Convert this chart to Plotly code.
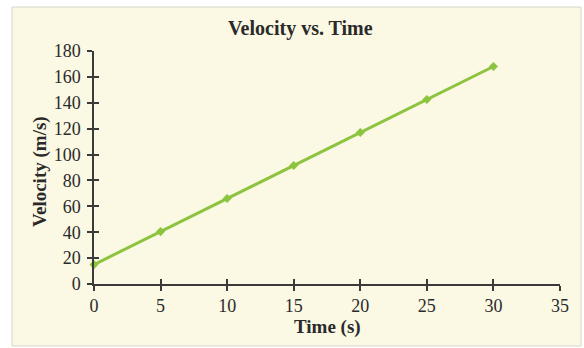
import plotly.graph_objects as go

time_s = [0, 5, 10, 15, 20, 25, 30]
velocity = [15, 40.5, 66, 91.5, 117, 142.5, 168]
x_ticks = [0, 5, 10, 15, 20, 25, 30, 35]
y_ticks = [0, 20, 40, 60, 80, 100, 120, 140, 160, 180]
title_text = "Velocity vs. Time"
x_title = "Time (s)"
y_title = "Velocity (m/s)"

W, H = 584, 348
ML, MR, MT, MB = 94, 24, 51, 64
pw, ph = W - ML - MR, H - MT - MB

def px(x):
    return (x - ML) / pw

def py(y):
    return (H - MB - y) / ph

FONT = "Liberation Serif, Times New Roman, serif"
AX = "#3a3a3a"
GREEN = "#8dc43f"
TXT = "#2a2a2a"

fig = go.Figure()
fig.add_trace(go.Scatter(
    x=time_s, y=velocity, mode="lines+markers",
    line=dict(color=GREEN, width=3),
    marker=dict(symbol="diamond", size=7, color=GREEN),
    showlegend=False, hoverinfo="skip", cliponaxis=False,
))
fig.add_trace(go.Scatter(x=[0], y=[0], xaxis="x2", yaxis="y2",
                         mode="markers", marker=dict(opacity=0),
                         showlegend=False, hoverinfo="skip"))

fig.add_shape(type="rect", xref="paper", yref="paper",
              x0=px(12), x1=px(581), y0=py(346), y1=py(7),
              fillcolor="#fbf8e3", line=dict(color="#d6d6cc", width=1),
              layer="below")

fig.add_annotation(text="<b>%s</b>" % title_text, xref="paper", yref="paper",
                   x=px(300), y=py(28), xanchor="center", yanchor="middle",
                   showarrow=False, font=dict(size=20, family=FONT, color=TXT))
fig.add_annotation(text="<b>%s</b>" % x_title, xref="paper", yref="paper",
                   x=px(327), y=py(327), xanchor="center", yanchor="middle",
                   showarrow=False, font=dict(size=19, family=FONT, color=TXT))
fig.add_annotation(text="<b>%s</b>" % y_title, xref="paper", yref="paper",
                   x=px(40), y=py(172), xanchor="center", yanchor="middle",
                   textangle=-90, showarrow=False,
                   font=dict(size=19, family=FONT, color=TXT))

common_x = dict(range=[0, 35], tickvals=x_ticks, showgrid=False, zeroline=False,
                showline=True, linecolor=AX, linewidth=1.5, tickcolor=AX,
                ticklen=5, tickwidth=1.5, automargin=False)
common_y = dict(range=[0, 180], tickvals=y_ticks, showgrid=False, zeroline=False,
                showline=True, linecolor=AX, linewidth=1.5, tickcolor=AX,
                ticklen=5, tickwidth=1.5, automargin=False)

fig.update_layout(
    width=W, height=H,
    margin=dict(l=ML, r=MR, t=MT, b=MB, pad=0, autoexpand=False),
    paper_bgcolor="white", plot_bgcolor="rgba(0,0,0,0)",
    font=dict(family=FONT, size=18, color=TXT),
    xaxis=dict(**common_x, ticks="outside", tickfont=dict(size=18)),
    yaxis=dict(**common_y, ticks="outside", tickfont=dict(size=18),
               ticklabelstandoff=3),
    xaxis2=dict(**common_x, ticks="inside", overlaying="x", showticklabels=False,
                anchor="y2"),
    yaxis2=dict(**common_y, ticks="inside", overlaying="y", showticklabels=False,
                anchor="x2"),
)

fig.write_html("out.html", config={"displayModeBar": False},
               post_script="document.body.style.margin='0';")
